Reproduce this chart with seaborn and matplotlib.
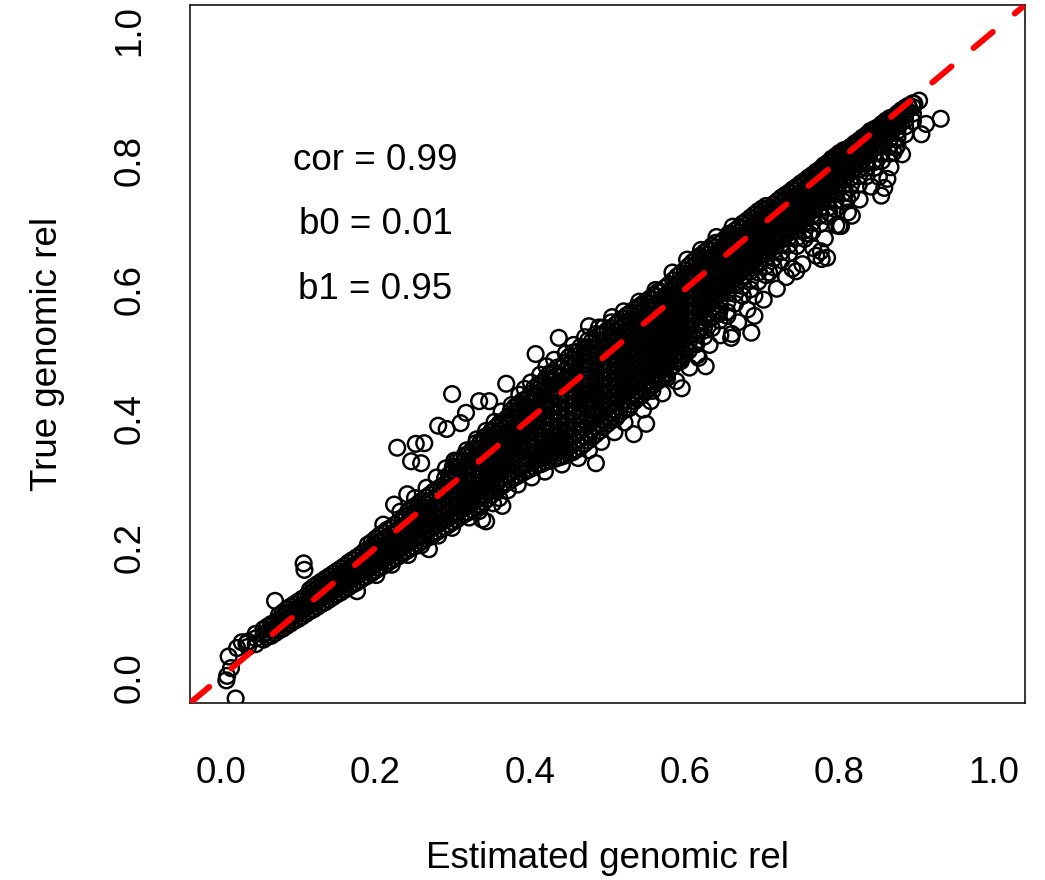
import matplotlib
matplotlib.use("Agg")
import matplotlib.pyplot as plt
import seaborn as sns
import pandas as pd

# ---------------- data ----------------
# dense band of points: (estimated value, [true values seen in that column])
band_low = [
    (0.035, [0.047, 0.055]),
    (0.045, [0.051, 0.060, 0.067]),
    (0.055, [0.058, 0.066, 0.074]),
    (0.065, [0.064, 0.073, 0.082]),
    (0.075, [0.072, 0.080, 0.089, 0.096]),
    (0.085, [0.079, 0.088, 0.097, 0.105]),
    (0.095, [0.087, 0.095, 0.104, 0.113]),
    (0.105, [0.094, 0.103, 0.112, 0.121]),
    (0.115, [0.102, 0.111, 0.120, 0.129, 0.135]),
    (0.125, [0.109, 0.118, 0.128, 0.137, 0.144]),
    (0.135, [0.116, 0.125, 0.135, 0.144, 0.152]),
    (0.145, [0.124, 0.133, 0.142, 0.151, 0.160]),
    (0.155, [0.131, 0.140, 0.150, 0.159, 0.168]),
    (0.165, [0.139, 0.148, 0.158, 0.167, 0.177]),
    (0.175, [0.146, 0.156, 0.166, 0.175, 0.185]),
    (0.185, [0.154, 0.164, 0.174, 0.184, 0.194]),
    (0.195, [0.161, 0.171, 0.181, 0.191, 0.201, 0.209]),
    (0.205, [0.169, 0.179, 0.189, 0.199, 0.209, 0.219]),
    (0.215, [0.176, 0.186, 0.196, 0.207, 0.217, 0.228]),
    (0.225, [0.184, 0.194, 0.204, 0.215, 0.225, 0.236]),
    (0.235, [0.191, 0.201, 0.212, 0.223, 0.233, 0.244]),
    (0.245, [0.199, 0.209, 0.220, 0.231, 0.241, 0.252, 0.259]),
    (0.255, [0.206, 0.217, 0.228, 0.238, 0.249, 0.260, 0.268]),
    (0.265, [0.214, 0.225, 0.235, 0.246, 0.257, 0.268, 0.278]),
    (0.275, [0.221, 0.232, 0.243, 0.254, 0.265, 0.276, 0.287]),
    (0.285, [0.229, 0.240, 0.251, 0.262, 0.273, 0.284, 0.295]),
    (0.295, [0.236, 0.247, 0.258, 0.270, 0.281, 0.292, 0.303, 0.313]),
]

# second, interleaved set of columns of the same dense band
fill_low = [
    (0.06, [0.062, 0.070, 0.078]),
    (0.07, [0.068, 0.076, 0.085]),
    (0.08, [0.075, 0.084, 0.093, 0.100]),
    (0.09, [0.083, 0.092, 0.100, 0.109]),
    (0.10, [0.090, 0.099, 0.108, 0.117]),
    (0.11, [0.098, 0.107, 0.116, 0.125]),
    (0.12, [0.105, 0.114, 0.123, 0.133, 0.140]),
    (0.13, [0.113, 0.122, 0.131, 0.140, 0.148]),
    (0.14, [0.120, 0.129, 0.138, 0.147, 0.156]),
    (0.15, [0.128, 0.137, 0.146, 0.155, 0.164]),
    (0.16, [0.135, 0.144, 0.154, 0.163, 0.172]),
    (0.17, [0.143, 0.152, 0.161, 0.171, 0.181]),
    (0.18, [0.150, 0.160, 0.169, 0.179, 0.189]),
    (0.19, [0.157, 0.167, 0.177, 0.187, 0.197, 0.205]),
    (0.20, [0.165, 0.175, 0.185, 0.195, 0.205, 0.214]),
    (0.21, [0.172, 0.182, 0.192, 0.202, 0.213, 0.223]),
    (0.22, [0.180, 0.190, 0.200, 0.210, 0.221, 0.231]),
    (0.23, [0.187, 0.197, 0.208, 0.218, 0.229, 0.240]),
    (0.24, [0.195, 0.205, 0.216, 0.226, 0.237, 0.248]),
    (0.25, [0.202, 0.213, 0.223, 0.234, 0.245, 0.256, 0.264]),
    (0.26, [0.210, 0.221, 0.231, 0.242, 0.253, 0.264, 0.273]),
    (0.27, [0.217, 0.228, 0.239, 0.250, 0.261, 0.272, 0.282]),
    (0.28, [0.225, 0.236, 0.247, 0.258, 0.269, 0.280, 0.291]),
    (0.29, [0.232, 0.243, 0.254, 0.266, 0.277, 0.288, 0.299, 0.308]),
    (0.30, [0.240, 0.251, 0.262, 0.274, 0.285, 0.296, 0.308, 0.318, 0.326]),
]

band_mid = [
    (0.305, [0.244, 0.254, 0.264, 0.275, 0.285, 0.296, 0.306, 0.316, 0.325, 0.334]),
    (0.315, [0.252, 0.262, 0.272, 0.283, 0.293, 0.304, 0.314, 0.324, 0.334, 0.343]),
    (0.325, [0.259, 0.269, 0.280, 0.290, 0.301, 0.312, 0.322, 0.333, 0.343, 0.352]),
    (0.335, [0.267, 0.277, 0.288, 0.299, 0.309, 0.320, 0.331, 0.341, 0.352, 0.362]),
    (0.345, [0.276, 0.287, 0.298, 0.309, 0.320, 0.331, 0.342, 0.353, 0.364, 0.374]),
    (0.355, [0.288, 0.299, 0.310, 0.321, 0.332, 0.343, 0.354, 0.365, 0.376, 0.386]),
    (0.365, [0.297, 0.308, 0.319, 0.330, 0.341, 0.352, 0.363, 0.374, 0.385, 0.396]),
    (0.375, [0.305, 0.316, 0.327, 0.338, 0.349, 0.360, 0.371, 0.382, 0.393, 0.404, 0.412]),
    (0.385, [0.312, 0.323, 0.334, 0.345, 0.356, 0.367, 0.378, 0.389, 0.400, 0.411, 0.422]),
    (0.395, [0.319, 0.330, 0.341, 0.352, 0.363, 0.374, 0.385, 0.396, 0.407, 0.418, 0.430]),
    (0.405, [0.325, 0.336, 0.347, 0.358, 0.369, 0.381, 0.392, 0.403, 0.414, 0.425, 0.436, 0.447]),
    (0.415, [0.330, 0.341, 0.352, 0.364, 0.375, 0.386, 0.398, 0.409, 0.420, 0.432, 0.443, 0.455]),
    (0.425, [0.335, 0.346, 0.358, 0.369, 0.381, 0.392, 0.404, 0.415, 0.427, 0.438, 0.450, 0.461, 0.470]),
    (0.435, [0.339, 0.351, 0.362, 0.374, 0.386, 0.397, 0.409, 0.421, 0.432, 0.444, 0.455, 0.467, 0.479]),
    (0.445, [0.343, 0.355, 0.367, 0.379, 0.391, 0.402, 0.414, 0.426, 0.438, 0.450, 0.461, 0.473, 0.486]),
    (0.455, [0.348, 0.360, 0.372, 0.384, 0.396, 0.408, 0.420, 0.432, 0.444, 0.456, 0.468, 0.480, 0.492, 0.502]),
    (0.465, [0.356, 0.368, 0.380, 0.392, 0.404, 0.416, 0.428, 0.440, 0.452, 0.464, 0.476, 0.488, 0.500, 0.511]),
    (0.475, [0.366, 0.378, 0.390, 0.402, 0.414, 0.426, 0.438, 0.450, 0.462, 0.474, 0.486, 0.498, 0.510, 0.521]),
    (0.485, [0.376, 0.388, 0.400, 0.412, 0.424, 0.436, 0.448, 0.460, 0.472, 0.484, 0.496, 0.508, 0.520, 0.531]),
    (0.495, [0.387, 0.399, 0.411, 0.423, 0.435, 0.447, 0.459, 0.471, 0.483, 0.495, 0.507, 0.519, 0.531, 0.541]),
    (0.505, [0.397, 0.409, 0.421, 0.433, 0.445, 0.457, 0.469, 0.481, 0.493, 0.505, 0.517, 0.529, 0.540, 0.549]),
    (0.515, [0.407, 0.419, 0.431, 0.443, 0.455, 0.467, 0.479, 0.491, 0.503, 0.515, 0.527, 0.539, 0.551]),
    (0.525, [0.417, 0.429, 0.441, 0.453, 0.465, 0.477, 0.489, 0.501, 0.513, 0.525, 0.537, 0.549, 0.560]),
    (0.535, [0.427, 0.439, 0.451, 0.463, 0.475, 0.487, 0.499, 0.511, 0.523, 0.535, 0.547, 0.559, 0.569]),
    (0.545, [0.437, 0.449, 0.461, 0.473, 0.485, 0.497, 0.509, 0.521, 0.533, 0.545, 0.557, 0.568, 0.577]),
    (0.555, [0.447, 0.459, 0.471, 0.483, 0.495, 0.507, 0.519, 0.531, 0.543, 0.555, 0.567, 0.578, 0.586]),
    (0.565, [0.458, 0.470, 0.482, 0.494, 0.506, 0.518, 0.530, 0.542, 0.554, 0.566, 0.578, 0.589, 0.596]),
    (0.575, [0.470, 0.482, 0.494, 0.506, 0.518, 0.530, 0.542, 0.554, 0.566, 0.578, 0.590, 0.603]),
    (0.585, [0.482, 0.494, 0.506, 0.518, 0.530, 0.542, 0.554, 0.566, 0.578, 0.590, 0.602, 0.614]),
    (0.595, [0.493, 0.505, 0.517, 0.529, 0.541, 0.553, 0.565, 0.577, 0.589, 0.601, 0.613, 0.625]),
]

fill_mid = [
    (0.31, [0.248, 0.259, 0.270, 0.281, 0.293, 0.304, 0.315, 0.326, 0.336]),
    (0.32, [0.255, 0.266, 0.277, 0.289, 0.300, 0.312, 0.323, 0.334, 0.345]),
    (0.33, [0.263, 0.274, 0.285, 0.297, 0.308, 0.320, 0.331, 0.343, 0.354, 0.362]),
    (0.34, [0.271, 0.282, 0.294, 0.305, 0.317, 0.328, 0.340, 0.351, 0.363, 0.371]),
    (0.35, [0.282, 0.293, 0.304, 0.316, 0.327, 0.338, 0.349, 0.360, 0.371, 0.381]),
    (0.36, [0.293, 0.304, 0.315, 0.326, 0.338, 0.349, 0.360, 0.371, 0.382, 0.392]),
    (0.37, [0.301, 0.312, 0.324, 0.335, 0.346, 0.358, 0.369, 0.380, 0.391, 0.401]),
    (0.38, [0.309, 0.320, 0.331, 0.343, 0.354, 0.365, 0.377, 0.388, 0.399, 0.410, 0.418]),
    (0.39, [0.316, 0.327, 0.339, 0.350, 0.362, 0.373, 0.385, 0.396, 0.408, 0.419, 0.428]),
    (0.40, [0.322, 0.334, 0.345, 0.357, 0.369, 0.380, 0.392, 0.403, 0.415, 0.427, 0.438]),
    (0.41, [0.328, 0.339, 0.351, 0.363, 0.375, 0.387, 0.398, 0.410, 0.422, 0.434, 0.445, 0.452]),
    (0.42, [0.333, 0.345, 0.357, 0.369, 0.381, 0.393, 0.405, 0.417, 0.429, 0.441, 0.453, 0.462]),
    (0.43, [0.337, 0.349, 0.361, 0.373, 0.386, 0.398, 0.410, 0.422, 0.435, 0.447, 0.459, 0.471]),
    (0.44, [0.341, 0.353, 0.366, 0.378, 0.391, 0.403, 0.416, 0.428, 0.440, 0.453, 0.465, 0.478]),
    (0.45, [0.346, 0.358, 0.371, 0.383, 0.396, 0.409, 0.421, 0.434, 0.446, 0.459, 0.471, 0.484, 0.495]),
    (0.46, [0.352, 0.364, 0.377, 0.389, 0.402, 0.415, 0.427, 0.440, 0.452, 0.465, 0.477, 0.490, 0.503]),
    (0.47, [0.361, 0.373, 0.386, 0.398, 0.411, 0.423, 0.436, 0.448, 0.461, 0.473, 0.486, 0.498, 0.510]),
    (0.48, [0.371, 0.383, 0.396, 0.408, 0.421, 0.433, 0.446, 0.458, 0.471, 0.483, 0.496, 0.508, 0.520]),
    (0.49, [0.381, 0.393, 0.406, 0.418, 0.431, 0.443, 0.456, 0.468, 0.481, 0.493, 0.506, 0.518, 0.530]),
    (0.50, [0.392, 0.404, 0.417, 0.429, 0.441, 0.453, 0.465, 0.477, 0.489, 0.501, 0.513, 0.525, 0.537]),
    (0.51, [0.402, 0.414, 0.426, 0.438, 0.450, 0.462, 0.474, 0.486, 0.498, 0.510, 0.522, 0.534, 0.545]),
    (0.52, [0.412, 0.424, 0.436, 0.448, 0.460, 0.472, 0.484, 0.496, 0.508, 0.520, 0.532, 0.544, 0.555]),
    (0.53, [0.422, 0.434, 0.446, 0.458, 0.470, 0.482, 0.494, 0.506, 0.518, 0.530, 0.542, 0.554, 0.564]),
    (0.54, [0.432, 0.444, 0.456, 0.468, 0.480, 0.492, 0.504, 0.516, 0.528, 0.540, 0.552, 0.563, 0.573]),
    (0.55, [0.442, 0.454, 0.466, 0.478, 0.490, 0.502, 0.514, 0.526, 0.538, 0.550, 0.562, 0.573, 0.582]),
    (0.56, [0.453, 0.465, 0.477, 0.489, 0.501, 0.513, 0.525, 0.537, 0.549, 0.561, 0.573, 0.584, 0.591]),
    (0.57, [0.464, 0.476, 0.488, 0.500, 0.512, 0.524, 0.536, 0.548, 0.560, 0.572, 0.584, 0.596]),
    (0.58, [0.476, 0.488, 0.500, 0.512, 0.524, 0.536, 0.548, 0.560, 0.572, 0.584, 0.596, 0.608]),
    (0.59, [0.488, 0.500, 0.512, 0.524, 0.536, 0.548, 0.560, 0.572, 0.584, 0.596, 0.608, 0.620]),
    (0.60, [0.499, 0.511, 0.523, 0.535, 0.547, 0.559, 0.571, 0.583, 0.595, 0.607, 0.619, 0.630]),
]

band_high = [
    (0.605, [0.505, 0.517, 0.529, 0.541, 0.553, 0.565, 0.577, 0.589, 0.601, 0.613, 0.624, 0.636]),
    (0.615, [0.515, 0.530, 0.545, 0.557, 0.569, 0.581, 0.593, 0.605, 0.617, 0.629, 0.640, 0.648]),
    (0.625, [0.527, 0.542, 0.557, 0.569, 0.581, 0.593, 0.604, 0.615, 0.626, 0.637, 0.648, 0.657]),
    (0.635, [0.540, 0.556, 0.570, 0.582, 0.594, 0.605, 0.616, 0.627, 0.638, 0.649, 0.660, 0.667]),
    (0.645, [0.552, 0.568, 0.582, 0.594, 0.605, 0.616, 0.627, 0.638, 0.649, 0.660, 0.671]),
    (0.655, [0.565, 0.580, 0.594, 0.606, 0.617, 0.628, 0.639, 0.650, 0.661, 0.672, 0.682]),
    (0.665, [0.578, 0.593, 0.606, 0.617, 0.628, 0.639, 0.650, 0.661, 0.672, 0.682, 0.691]),
    (0.675, [0.590, 0.605, 0.618, 0.629, 0.640, 0.651, 0.662, 0.673, 0.684, 0.694, 0.702]),
    (0.685, [0.600, 0.615, 0.628, 0.639, 0.650, 0.661, 0.672, 0.683, 0.694, 0.704, 0.711]),
    (0.695, [0.612, 0.626, 0.639, 0.650, 0.661, 0.672, 0.683, 0.694, 0.705, 0.714, 0.721]),
    (0.705, [0.622, 0.636, 0.649, 0.660, 0.671, 0.682, 0.693, 0.704, 0.714, 0.723, 0.729]),
    (0.715, [0.634, 0.648, 0.660, 0.671, 0.682, 0.693, 0.704, 0.714, 0.724, 0.732]),
    (0.725, [0.645, 0.658, 0.670, 0.681, 0.692, 0.703, 0.714, 0.724, 0.734, 0.742]),
    (0.735, [0.656, 0.669, 0.681, 0.692, 0.703, 0.714, 0.724, 0.734, 0.743, 0.750]),
    (0.745, [0.667, 0.680, 0.692, 0.703, 0.714, 0.725, 0.735, 0.745, 0.753, 0.759]),
    (0.755, [0.678, 0.691, 0.703, 0.714, 0.725, 0.736, 0.746, 0.755, 0.763, 0.768]),
    (0.765, [0.690, 0.703, 0.715, 0.726, 0.736, 0.746, 0.756, 0.765, 0.772, 0.777]),
    (0.775, [0.701, 0.714, 0.726, 0.737, 0.747, 0.757, 0.766, 0.774, 0.781, 0.786]),
    (0.785, [0.713, 0.726, 0.738, 0.748, 0.758, 0.767, 0.776, 0.784, 0.791, 0.796]),
    (0.795, [0.724, 0.737, 0.749, 0.759, 0.769, 0.778, 0.786, 0.794, 0.801, 0.806]),
    (0.805, [0.736, 0.749, 0.761, 0.771, 0.780, 0.789, 0.797, 0.804, 0.811, 0.815]),
    (0.815, [0.748, 0.762, 0.773, 0.783, 0.792, 0.800, 0.808, 0.815, 0.821]),
    (0.825, [0.762, 0.775, 0.786, 0.795, 0.803, 0.811, 0.818, 0.825, 0.830]),
    (0.835, [0.775, 0.788, 0.798, 0.807, 0.815, 0.822, 0.829, 0.835, 0.839]),
    (0.845, [0.788, 0.800, 0.810, 0.819, 0.826, 0.833, 0.839, 0.845, 0.848]),
    (0.855, [0.799, 0.811, 0.821, 0.830, 0.837, 0.844, 0.850, 0.856]),
    (0.865, [0.810, 0.822, 0.832, 0.841, 0.848, 0.855, 0.861, 0.865]),
    (0.875, [0.823, 0.835, 0.845, 0.853, 0.860, 0.866, 0.872]),
    (0.885, [0.840, 0.852, 0.862, 0.870, 0.876, 0.881]),
    (0.895, [0.860, 0.872, 0.882, 0.888]),
]

fill_high = [
    (0.61, [0.530, 0.551, 0.563, 0.575, 0.587, 0.599, 0.611, 0.623, 0.634, 0.642]),
    (0.62, [0.540, 0.562, 0.574, 0.586, 0.598, 0.610, 0.621, 0.632, 0.643, 0.652]),
    (0.63, [0.553, 0.575, 0.587, 0.599, 0.610, 0.621, 0.632, 0.643, 0.654, 0.662]),
    (0.64, [0.566, 0.588, 0.599, 0.610, 0.621, 0.632, 0.643, 0.654, 0.665, 0.672]),
    (0.65, [0.600, 0.611, 0.622, 0.633, 0.644, 0.655, 0.666, 0.676]),
    (0.66, [0.612, 0.623, 0.634, 0.645, 0.656, 0.667, 0.677, 0.686]),
    (0.67, [0.624, 0.635, 0.646, 0.657, 0.668, 0.678, 0.688, 0.696]),
    (0.68, [0.634, 0.645, 0.656, 0.667, 0.678, 0.689, 0.699, 0.706]),
    (0.69, [0.645, 0.656, 0.667, 0.678, 0.689, 0.699, 0.709, 0.716]),
    (0.70, [0.655, 0.666, 0.677, 0.688, 0.698, 0.708, 0.718, 0.725]),
    (0.71, [0.666, 0.677, 0.688, 0.698, 0.708, 0.718, 0.727]),
    (0.72, [0.676, 0.687, 0.698, 0.708, 0.718, 0.728, 0.737]),
    (0.73, [0.687, 0.698, 0.708, 0.718, 0.728, 0.738, 0.746]),
    (0.74, [0.698, 0.709, 0.719, 0.729, 0.739, 0.748, 0.755]),
    (0.75, [0.708, 0.719, 0.730, 0.740, 0.750, 0.758, 0.764]),
    (0.76, [0.720, 0.731, 0.741, 0.751, 0.760, 0.768, 0.773]),
    (0.77, [0.731, 0.742, 0.752, 0.761, 0.770, 0.777, 0.782]),
    (0.78, [0.742, 0.753, 0.763, 0.772, 0.780, 0.787, 0.792]),
    (0.79, [0.753, 0.764, 0.774, 0.782, 0.790, 0.797, 0.802]),
    (0.80, [0.764, 0.775, 0.785, 0.793, 0.800, 0.807, 0.811]),
    (0.81, [0.776, 0.787, 0.796, 0.804, 0.811, 0.817]),
    (0.82, [0.788, 0.798, 0.807, 0.815, 0.821, 0.826]),
    (0.83, [0.800, 0.810, 0.818, 0.825, 0.831, 0.835]),
    (0.84, [0.812, 0.821, 0.829, 0.836, 0.841, 0.845]),
    (0.85, [0.824, 0.833, 0.840, 0.846, 0.851]),
    (0.86, [0.836, 0.844, 0.851, 0.857, 0.861]),
    (0.87, [0.848, 0.856, 0.862, 0.867]),
    (0.88, [0.858, 0.866, 0.872, 0.877]),
]

# loose circles along the upper and lower edges of the band
edge_est = [0.210, 0.232, 0.251, 0.266, 0.279, 0.291, 0.302, 0.318, 0.331, 0.343,
            0.354, 0.363, 0.376, 0.386, 0.393, 0.401, 0.413, 0.421, 0.431, 0.446,
            0.456, 0.471, 0.489, 0.506, 0.521, 0.541, 0.562, 0.584, 0.603, 0.621,
            0.641, 0.662,
            0.201, 0.221, 0.242, 0.259, 0.281, 0.299, 0.321, 0.334, 0.352, 0.371,
            0.384, 0.402, 0.419, 0.441, 0.462, 0.476, 0.492, 0.509, 0.522, 0.546,
            0.556, 0.571, 0.589, 0.606, 0.616, 0.632, 0.646, 0.669, 0.681, 0.702,
            0.719, 0.731, 0.752, 0.766, 0.781, 0.796, 0.811, 0.826, 0.841, 0.851,
            0.866, 0.881]
edge_true = [0.236, 0.256, 0.277, 0.293, 0.309, 0.323, 0.335, 0.351, 0.368, 0.381,
             0.395, 0.411, 0.421, 0.437, 0.446, 0.456, 0.468, 0.481, 0.491, 0.501,
             0.514, 0.526, 0.541, 0.557, 0.566, 0.581, 0.599, 0.626, 0.646, 0.661,
             0.681, 0.697,
             0.158, 0.174, 0.189, 0.204, 0.219, 0.231, 0.247, 0.257, 0.269, 0.289,
             0.298, 0.309, 0.318, 0.329, 0.339, 0.351, 0.364, 0.379, 0.394, 0.414,
             0.427, 0.439, 0.458, 0.479, 0.498, 0.514, 0.529, 0.549, 0.569, 0.584,
             0.601, 0.619, 0.639, 0.664, 0.679, 0.699, 0.719, 0.739, 0.759, 0.774,
             0.789, 0.809]

# scattered points above the band
out_above_est = [0.007, 0.008, 0.013, 0.010, 0.021, 0.027, 0.033, 0.070, 0.107, 0.108,
                 0.224, 0.241, 0.228, 0.246, 0.259, 0.252, 0.263, 0.281, 0.292, 0.299,
                 0.317, 0.310, 0.334, 0.347, 0.369, 0.407, 0.437, 0.476, 0.657, 0.889,
                 0.903, 0.897]
out_above_true = [-0.005, 0.002, 0.014, 0.032, 0.045, 0.054, 0.052, 0.118, 0.176, 0.166,
                  0.267, 0.283, 0.355, 0.334, 0.331, 0.361, 0.362, 0.389, 0.384, 0.438,
                  0.409, 0.393, 0.427, 0.427, 0.454, 0.500, 0.525, 0.543, 0.686, 0.884,
                  0.892, 0.887]

# scattered points below the band
out_below_est = [0.019, 0.176, 0.269, 0.343, 0.338, 0.360, 0.364, 0.485, 0.511, 0.528,
                 0.534, 0.537, 0.550, 0.558, 0.576, 0.577, 0.575, 0.580, 0.596, 0.595,
                 0.601, 0.618, 0.618, 0.627, 0.642, 0.644, 0.655, 0.661, 0.660, 0.686,
                 0.690, 0.690, 0.709, 0.739, 0.744, 0.761, 0.770, 0.776, 0.777, 0.784,
                 0.787, 0.800, 0.802, 0.810, 0.816, 0.834, 0.854, 0.858, 0.862, 0.870,
                 0.873, 0.890, 0.906, 0.912, 0.931]
out_below_true = [-0.033, 0.133, 0.198, 0.241, 0.244, 0.277, 0.265, 0.331, 0.401, 0.416,
                  0.376, 0.432, 0.392, 0.443, 0.509, 0.463, 0.466, 0.515, 0.447, 0.489,
                  0.508, 0.536, 0.494, 0.481, 0.562, 0.562, 0.559, 0.531, 0.525, 0.533,
                  0.559, 0.590, 0.626, 0.632, 0.628, 0.686, 0.652, 0.659, 0.647, 0.649,
                  0.718, 0.698, 0.698, 0.740, 0.714, 0.794, 0.745, 0.757, 0.771, 0.812,
                  0.819, 0.881, 0.840, 0.856, 0.864]

x_ticks = [0.0, 0.2, 0.4, 0.6, 0.8, 1.0]
tick_labels = ["0.0", "0.2", "0.4", "0.6", "0.8", "1.0"]
annotations = ["cor = 0.99", "b0 = 0.01", "b1 = 0.95"]
annotation_y = [0.8, 0.7, 0.6]
annotation_x = 0.2
x_title = "Estimated genomic rel"
y_title = "True genomic rel"

# ---------------- build table ----------------
est, true = [], []
for col_x, ys in band_low + fill_low + band_mid + fill_mid + band_high + fill_high:
    est += [col_x] * len(ys)
    true += list(ys)
est += edge_est + out_above_est + out_below_est
true += edge_true + out_above_true + out_below_true
df = pd.DataFrame({"est": est, "true": true})

# ---------------- style ----------------
sns.set_style("white")
plt.rcParams["font.family"] = ["Liberation Sans", "DejaVu Sans"]
FS = 26.5
plt.rcParams["font.size"] = FS

fig = plt.figure(figsize=(10.45, 8.8), dpi=100)
ax = fig.add_axes([190 / 1045, 1 - 703 / 880, 835 / 1045, 698 / 880])

sns.scatterplot(data=df, x="est", y="true", ax=ax, marker="o", s=128,
                linewidth=1.75, edgecolor="black", legend=False, zorder=2)
for coll in ax.collections:
    coll.set_facecolor("none")
    coll.set_edgecolor("black")

ax.axline((0, 0), (1, 1), color="#FF0000", linewidth=4.3,
          linestyle=(0, (4.2, 4.8)), dash_capstyle="round", zorder=3)

ax.set_xlim(-0.04, 1.04)
ax.set_ylim(-0.04, 1.04)
ax.set_xticks(x_ticks)
ax.set_xticklabels(tick_labels)
ax.set_yticks(x_ticks)
ax.set_yticklabels(tick_labels, rotation=90, va="center")

for sp in ax.spines.values():
    sp.set_visible(True)
    sp.set_color("black")
    sp.set_linewidth(1.1)

ax.tick_params(axis="both", which="major", direction="out", length=15.5,
               width=1.1, color="black", labelsize=FS, labelcolor="black")
ax.tick_params(axis="x", pad=23)
ax.tick_params(axis="y", pad=15)

ax.set_xlabel(x_title, fontsize=FS, color="black")
ax.set_ylabel(y_title, fontsize=FS, color="black")
ax.xaxis.set_label_coords(0.5, -0.197)
ax.yaxis.set_label_coords(-0.150, 0.5)

for txt, yy in zip(annotations, annotation_y):
    ax.text(annotation_x, yy, txt, ha="center", va="center", fontsize=FS,
            color="black")

ax.grid(False)
fig.savefig("out.png", dpi=100, facecolor="white")
